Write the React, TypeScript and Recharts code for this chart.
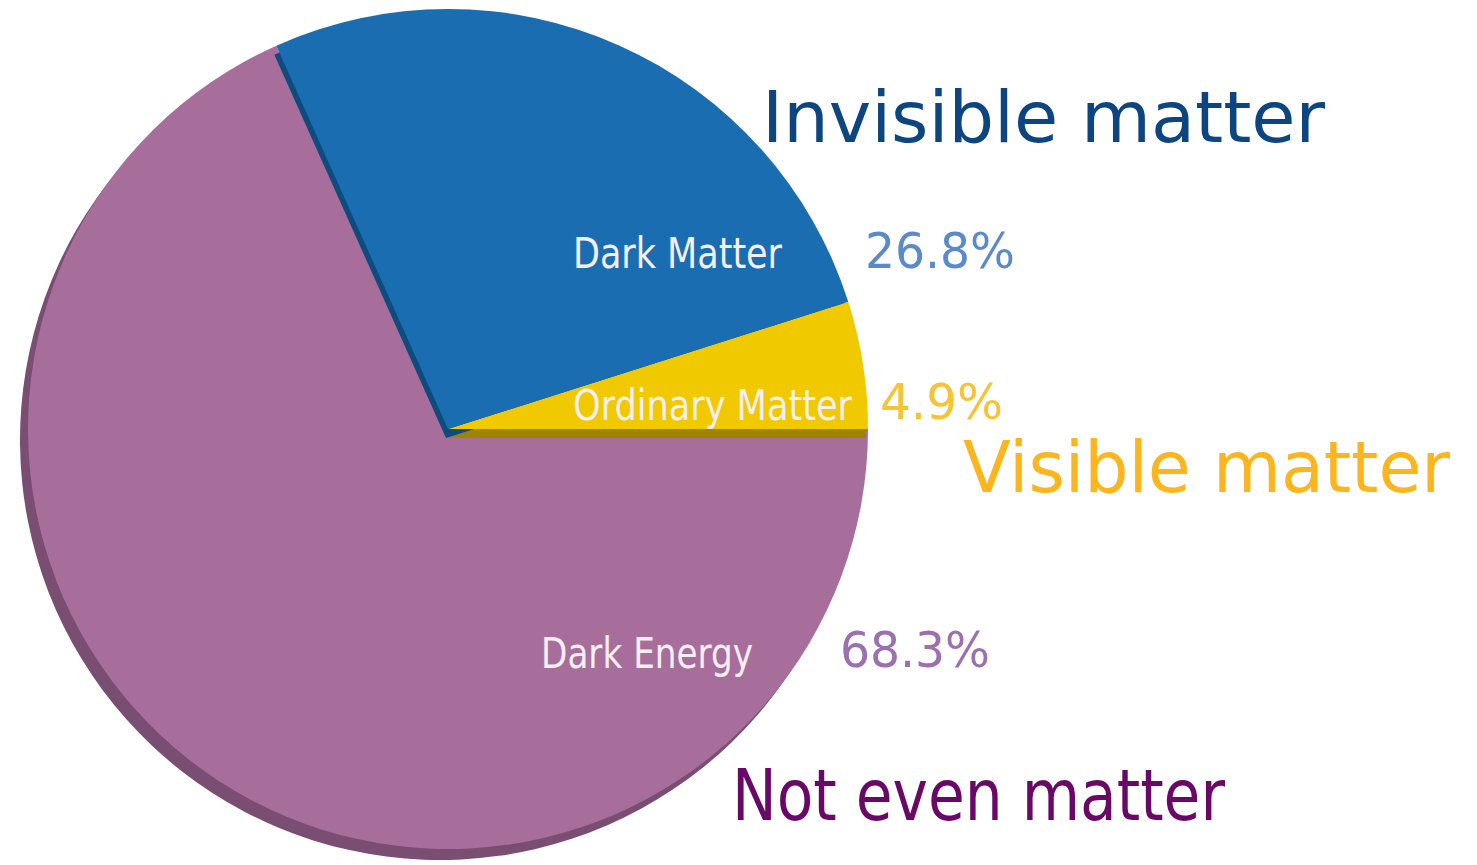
import React from 'react';
import { PieChart, Pie, Cell } from 'recharts';

// slices, counter-clockwise from 3 o'clock
const components = ['Ordinary Matter', 'Dark Matter', 'Dark Energy'];
const shares = [4.9, 26.8, 68.3];
const percentLabels = ['4.9%', '26.8%', '68.3%'];
const groupLabels = ['Visible matter', 'Invisible matter', 'Not even matter'];

const data = components.map((name, i) => ({ name, value: shares[i] }));

const FILL = ['#F1C900', '#1B6DB1', '#A86E9B'];
const SIDE = ['#9E8500', '#0E4C7E', '#7A4D72'];
const PCT_COLOR = ['#F6C332', '#5A8ACB', '#9C70AE'];
const GROUP_COLOR = ['#FDB51E', '#0D4580', '#6A0868'];

// label placement (x, baseline, width) per slice
const nameLayout = [
  { x: 573, y: 420, w: 279 },
  { x: 573, y: 268, w: 209 },
  { x: 541, y: 668, w: 212 },
];
const pctLayout = [
  { x: 880, y: 419, w: 123 },
  { x: 865, y: 268, w: 150 },
  { x: 840, y: 667, w: 150 },
];
const groupLayout = [
  { x: 963, y: 492, w: 487 },
  { x: 762, y: 142, w: 563 },
  { x: 732, y: 820, w: 493 },
];

const W = 1477;
const H = 865;
const CX = 448;
const CY = 429;
const R = 420;
// depth of the disc side and of the raised slices' sides
const BASE_DX = -8;
const BASE_DY = 11;
const TOP_DX = -2;
const TOP_DY = 9;

const condensed = '"DejaVu Sans Condensed", "Liberation Sans Narrow", Roboto, sans-serif';
const comic = '"Comic Sans MS", "DejaVu Sans Condensed", "DejaVu Sans", sans-serif';

export default function App() {
  const isBase = (i: number) => i === 2;
  return (
    <div style={{ position: 'absolute', left: 0, top: 0, width: W, height: H, background: '#fff' }}>
      <PieChart width={W} height={H} margin={{ top: 0, right: 0, bottom: 0, left: 0 }}>
        {/* side of the base disc */}
        <Pie data={data} dataKey="value" cx={CX + BASE_DX} cy={CY + BASE_DY} outerRadius={R}
          startAngle={0} endAngle={360} stroke="none" isAnimationActive={false}>
          {data.map((d) => <Cell key={d.name} fill={SIDE[2]} />)}
        </Pie>
        {/* base slice */}
        <Pie data={data} dataKey="value" cx={CX} cy={CY} outerRadius={R}
          startAngle={0} endAngle={360} stroke="none" isAnimationActive={false}>
          {data.map((d, i) => <Cell key={d.name} fill={isBase(i) ? FILL[i] : 'transparent'} />)}
        </Pie>
        {/* sides of the raised slices */}
        <Pie data={data} dataKey="value" cx={CX + TOP_DX} cy={CY + TOP_DY} outerRadius={R}
          startAngle={0} endAngle={360} stroke="none" isAnimationActive={false}>
          {data.map((d, i) => <Cell key={d.name} fill={isBase(i) ? 'transparent' : SIDE[i]} />)}
        </Pie>
        {/* raised slices */}
        <Pie data={data} dataKey="value" cx={CX} cy={CY} outerRadius={R}
          startAngle={0} endAngle={360} stroke="none" isAnimationActive={false}>
          {data.map((d, i) => <Cell key={d.name} fill={isBase(i) ? 'transparent' : FILL[i]} />)}
        </Pie>
      </PieChart>
      <svg width={W} height={H} style={{ position: 'absolute', left: 0, top: 0, pointerEvents: 'none' }}>
        {components.map((name, i) => (
          <text key={name} x={nameLayout[i].x} y={nameLayout[i].y} textLength={nameLayout[i].w}
            lengthAdjust="spacingAndGlyphs" fontFamily={condensed} fontSize={43} fill="#F5EEF3">
            {name}
          </text>
        ))}
        {percentLabels.map((p, i) => (
          <text key={p} x={pctLayout[i].x} y={pctLayout[i].y} textLength={pctLayout[i].w}
            lengthAdjust="spacingAndGlyphs" fontFamily={condensed} fontSize={50} fill={PCT_COLOR[i]}>
            {p}
          </text>
        ))}
        {groupLabels.map((g, i) => (
          <text key={g} x={groupLayout[i].x} y={groupLayout[i].y} textLength={groupLayout[i].w}
            lengthAdjust="spacingAndGlyphs" fontFamily={comic} fontSize={72} fill={GROUP_COLOR[i]}>
            {g}
          </text>
        ))}
      </svg>
    </div>
  );
}
